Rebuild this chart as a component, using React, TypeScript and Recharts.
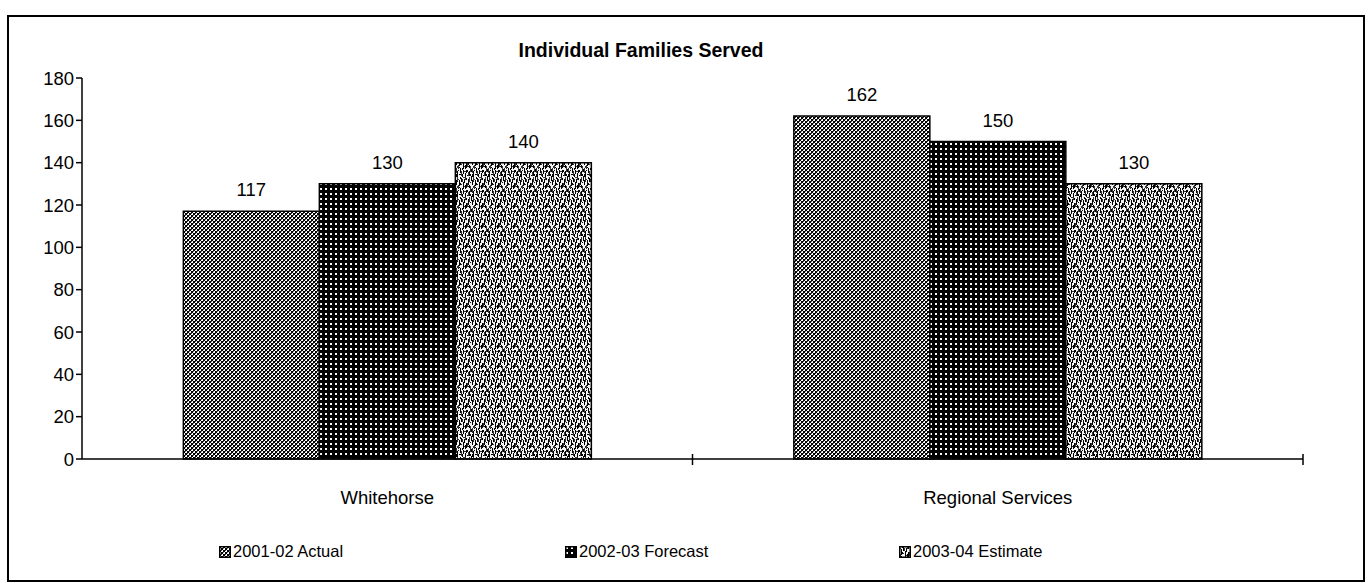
import { Bar, BarChart, LabelList, XAxis, YAxis } from "recharts";

const categories = ["Whitehorse", "Regional Services"];
const actual0102 = [117, 162];
const forecast0203 = [130, 150];
const estimate0304 = [140, 130];
const seriesNames = ["2001-02 Actual", "2002-03 Forecast", "2003-04 Estimate"];
const yTicks = [0, 20, 40, 60, 80, 100, 120, 140, 160, 180];

const rows = categories.map((name, i) => ({
  name,
  actual: actual0102[i],
  forecast: forecast0203[i],
  estimate: estimate0304[i],
}));

const FILLS = ["url(#pat-actual)", "url(#pat-forecast)", "url(#pat-estimate)"];
const KEYS = ["actual", "forecast", "estimate"];
const FONT = "'Liberation Sans', Arial, sans-serif";
const PLOT_BOTTOM = 442;

// speckle marks for the "estimate" texture: [x, y, w, h]
const SPECKS = [
  [0, 0, 1, 5], [2, 3, 1, 6], [4, 1, 1, 4], [1, 8, 1, 4], [3, 11, 1, 5], [6, 5, 1, 7],
  [8, 0, 1, 3], [9, 6, 1, 5], [11, 2, 1, 6], [13, 9, 1, 6], [14, 0, 1, 4], [12, 14, 1, 5],
  [7, 14, 2, 1], [5, 17, 1, 3], [10, 13, 1, 2], [15, 11, 1, 5], [0, 14, 1, 6], [2, 17, 2, 1],
  [6, 0, 2, 1], [10, 18, 2, 1], [13, 5, 1, 1], [7, 9, 1, 1], [3, 0, 1, 2], [15, 17, 1, 3],
  [4, 7, 1, 1], [11, 9, 1, 1], [8, 16, 1, 4], [1, 2, 1, 1], [14, 19, 1, 1], [5, 11, 1, 2],
  [5, 2, 1, 3], [7, 2, 1, 4], [9, 1, 1, 2], [12, 0, 1, 5], [15, 3, 1, 5], [1, 13, 1, 1],
  [4, 14, 1, 5], [6, 13, 1, 4], [9, 13, 1, 3], [11, 15, 1, 4], [13, 17, 1, 2], [14, 12, 1, 3],
  [0, 9, 1, 2], [2, 10, 1, 1], [8, 8, 1, 4], [10, 6, 1, 4], [12, 8, 1, 3], [3, 6, 1, 2],
];

function Patterns() {
  return (
    <defs>
      <pattern id="pat-actual" width="4" height="4" patternUnits="userSpaceOnUse">
        <rect width="4" height="4" fill="#fff" />
        <rect x="0" y="0" width="2" height="2" fill="#000" />
        <rect x="2" y="2" width="2" height="2" fill="#000" />
        <rect x="2" y="0" width="1" height="1" fill="#444" />
        <rect x="0" y="2" width="1" height="1" fill="#777" />
      </pattern>
      <pattern id="pat-forecast" width="5" height="5" patternUnits="userSpaceOnUse">
        <rect width="5" height="5" fill="#000" />
        <rect x="1" y="1" width="2" height="2" fill="#fff" />
      </pattern>
      <pattern id="pat-estimate" width="16" height="20" patternUnits="userSpaceOnUse">
        <rect width="16" height="20" fill="#f4f4f4" />
        {SPECKS.map(([x, y, w, h], i) => (
          <rect key={i} x={x} y={y} width={w} height={h} fill={i % 3 === 0 ? "#333" : "#000"} />
        ))}
      </pattern>
    </defs>
  );
}

function CategoryTick({ x, payload }: any) {
  const edge = x + (payload.offset || 0);
  return (
    <g>
      <line x1={edge} x2={edge} y1={PLOT_BOTTOM - 5} y2={PLOT_BOTTOM + 6} stroke="#000" strokeWidth={1.5} />
      <text x={x} y={PLOT_BOTTOM + 45} textAnchor="middle" fontSize={18.5} fontFamily={FONT} fill="#000">
        {payload.value}
      </text>
    </g>
  );
}

export default function App() {
  return (
    <div
      style={{
        position: "absolute",
        left: 7,
        top: 15,
        width: 1358,
        height: 567,
        border: "2px solid #000",
        boxSizing: "border-box",
        background: "#fff",
      }}
    >
      <div
        style={{
          position: "absolute",
          left: 0,
          width: 1264,
          top: 22,
          textAlign: "center",
          fontFamily: FONT,
          fontWeight: "bold",
          fontSize: 19.5,
        }}
      >
        Individual Families Served
      </div>
      <BarChart
        width={1354}
        height={563}
        data={rows}
        margin={{ top: 61, right: 60, left: 13, bottom: 61 }}
        barCategoryGap="16.6%"
        barGap={0}
      >
        <Patterns />
        <YAxis
          width={60}
          domain={[0, 180]}
          ticks={yTicks}
          interval={0}
          tickSize={6}
          tick={{ fontSize: 18.5, fontFamily: FONT, fill: "#000" }}
          axisLine={{ stroke: "#000", strokeWidth: 1.5 }}
          tickLine={{ stroke: "#000", strokeWidth: 1.5 }}
        />
        <XAxis
          dataKey="name"
          height={60}
          tickLine={false}
          axisLine={{ stroke: "#000", strokeWidth: 1.5 }}
          tick={<CategoryTick />}
          interval={0}
        />
        {KEYS.map((k, i) => (
          <Bar key={k} dataKey={k} name={seriesNames[i]} fill={FILLS[i]} stroke="#000" strokeWidth={1.5} isAnimationActive={false}>
            <LabelList dataKey={k} position="top" offset={15} fontSize={18.5} fontFamily={FONT} fill="#000" />
          </Bar>
        ))}
      </BarChart>
      <div style={{ position: "absolute", top: 525, left: 0, width: "100%", height: 24 }}>
        {seriesNames.map((s, i) => (
          <div
            key={s}
            style={{
              position: "absolute",
              left: [210, 556, 890][i],
              top: 0,
              display: "flex",
              alignItems: "center",
              fontFamily: FONT,
              fontSize: 16.5,
              whiteSpace: "nowrap",
            }}
          >
            <svg width={12} height={12} style={{ marginRight: 2 }}>
              <rect x={0.75} y={0.75} width={10.5} height={10.5} fill={FILLS[i]} stroke="#000" strokeWidth={1.5} />
            </svg>
            {s}
          </div>
        ))}
        <svg width={0} height={0} style={{ position: "absolute" }}>
          <Patterns />
        </svg>
      </div>
    </div>
  );
}
